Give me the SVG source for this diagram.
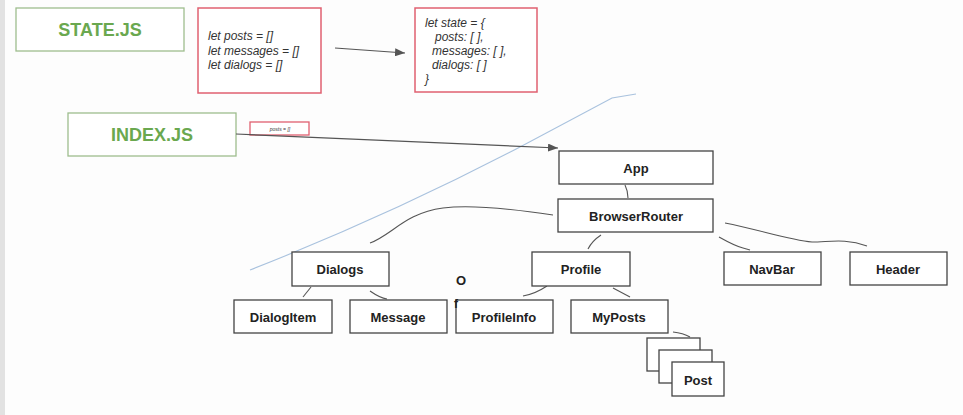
<svg xmlns="http://www.w3.org/2000/svg" width="963" height="415" viewBox="0 0 963 415">
<style>
.bg{fill:#fdfdfd}
.gbox{fill:#fff;stroke:#9ebd8e;stroke-width:1.3}
.gtxt{font-family:"Liberation Sans",Arial,sans-serif;font-weight:bold;font-size:18px;fill:#6aa84f;text-anchor:middle}
.rbox{fill:#fff;stroke:#e06070;stroke-width:1.5}
.itxt{font-family:"Liberation Sans",Arial,sans-serif;font-style:italic;font-size:12px;fill:#333}
.nbox{fill:#fff;stroke:#444;stroke-width:1.3}
.ntxt{font-family:"Liberation Sans",Arial,sans-serif;font-weight:bold;font-size:13px;fill:#222;text-anchor:middle}
.con{fill:none;stroke:#555;stroke-width:1.1}
.arr{fill:none;stroke:#555;stroke-width:1.2}
</style>
<defs>
<marker id="ah" markerWidth="10" markerHeight="8" refX="10" refY="4" orient="auto" markerUnits="userSpaceOnUse">
<path d="M0,0 L10,4 L0,8 Z" fill="#555"/>
</marker>
</defs>
<rect class="bg" x="0" y="0" width="963" height="415"/>
<rect x="0" y="0" width="5" height="415" fill="#e2e2e2"/>

<path d="M250,270 Q 390,215 520,147 L 612,98 L 636,94" fill="none" stroke="#a9c2de" stroke-width="1.1"/>

<g id="state-js"><rect class="gbox" x="16" y="8" width="168" height="43"/><text class="gtxt" x="100" y="36">STATE.JS</text></g>
<g id="vars"><rect class="rbox" x="198" y="8" width="123" height="85"/>
<text class="itxt" x="208" y="40">let posts = []</text>
<text class="itxt" x="208" y="55">let messages = []</text>
<text class="itxt" x="208" y="69">let dialogs = []</text></g>
<g id="state-obj"><rect class="rbox" x="415" y="8" width="122" height="84"/>
<text class="itxt" x="425" y="27">let state = {</text>
<text class="itxt" x="435" y="41">posts: [ ],</text>
<text class="itxt" x="432" y="55">messages: [ ],</text>
<text class="itxt" x="432" y="69">dialogs: [ ]</text>
<text class="itxt" x="425" y="83">}</text></g>
<g id="index-js"><rect class="gbox" x="68" y="113" width="168" height="43"/><text class="gtxt" x="152" y="141">INDEX.JS</text></g>
<g id="posts-label"><rect x="250" y="122" width="59" height="13" fill="#fff" stroke="#e06070" stroke-width="1.3"/><text x="280" y="131" font-family="Liberation Sans, Arial, sans-serif" font-style="italic" font-size="5" fill="#333" text-anchor="middle">posts = []</text></g>

<g id="connectors">
<path class="arr" d="M335,48 L405,53" marker-end="url(#ah)"/>
<path class="arr" d="M236,134 L558,148" marker-end="url(#ah)"/>
<path class="con" d="M625,185 Q628,191 628,198"/>
<path class="con" d="M553,215 C 520,210 475,204 443,208 C 405,213 392,235 370,243"/>
<path class="con" d="M601,235 Q592,241 588,249"/>
<path class="con" d="M719,237 Q735,246 743,248 L750,250"/>
<path class="con" d="M725,223 C 760,230 790,240 812,242 C 830,242 845,238 867,246"/>
<path class="con" d="M311,287 L303,297"/>
<path class="con" d="M370,291 Q380,298 387,299"/>
<path class="con" d="M547,286 Q535,294 523,296"/>
<path class="con" d="M613,288 L630,297"/>
<path class="con" d="M673,332 Q683,333 690,337"/>
</g>

<g id="app"><rect class="nbox" x="559" y="151" width="154" height="33"/><text class="ntxt" x="636" y="173">App</text></g>
<g id="browserrouter"><rect class="nbox" x="558" y="199" width="155" height="33"/><text class="ntxt" x="636" y="221">BrowserRouter</text></g>
<g id="dialogs"><rect class="nbox" x="292" y="252" width="97" height="34"/><text class="ntxt" x="340" y="274">Dialogs</text></g>
<g id="profile"><rect class="nbox" x="532" y="252" width="98" height="34"/><text class="ntxt" x="581" y="274">Profile</text></g>
<g id="navbar"><rect class="nbox" x="724" y="252" width="97" height="33"/><text class="ntxt" x="772" y="274">NavBar</text></g>
<g id="header"><rect class="nbox" x="850" y="252" width="97" height="33"/><text class="ntxt" x="898" y="274">Header</text></g>
<g id="dialogitem"><rect class="nbox" x="234" y="300" width="98" height="33"/><text class="ntxt" x="283" y="322">DialogItem</text></g>
<g id="message"><rect class="nbox" x="350" y="300" width="97" height="33"/><text class="ntxt" x="398" y="322">Message</text></g>
<g id="profileinfo"><rect class="nbox" x="456" y="300" width="97" height="33"/><text class="ntxt" x="504" y="322">ProfileInfo</text></g>
<g id="myposts"><rect class="nbox" x="571" y="300" width="97" height="33"/><text class="ntxt" x="619" y="322">MyPosts</text></g>
<g id="post">
<rect class="nbox" x="647" y="338" width="53" height="33"/>
<rect class="nbox" x="659" y="350" width="53" height="33"/>
<rect class="nbox" x="672" y="362" width="52" height="34"/>
<text class="ntxt" x="698" y="385">Post</text></g>

<text class="ntxt" x="461" y="285">O</text>
<text x="454" y="308" font-family="Liberation Sans, Arial, sans-serif" font-weight="bold" font-size="12" fill="#222">f</text>
</svg>
